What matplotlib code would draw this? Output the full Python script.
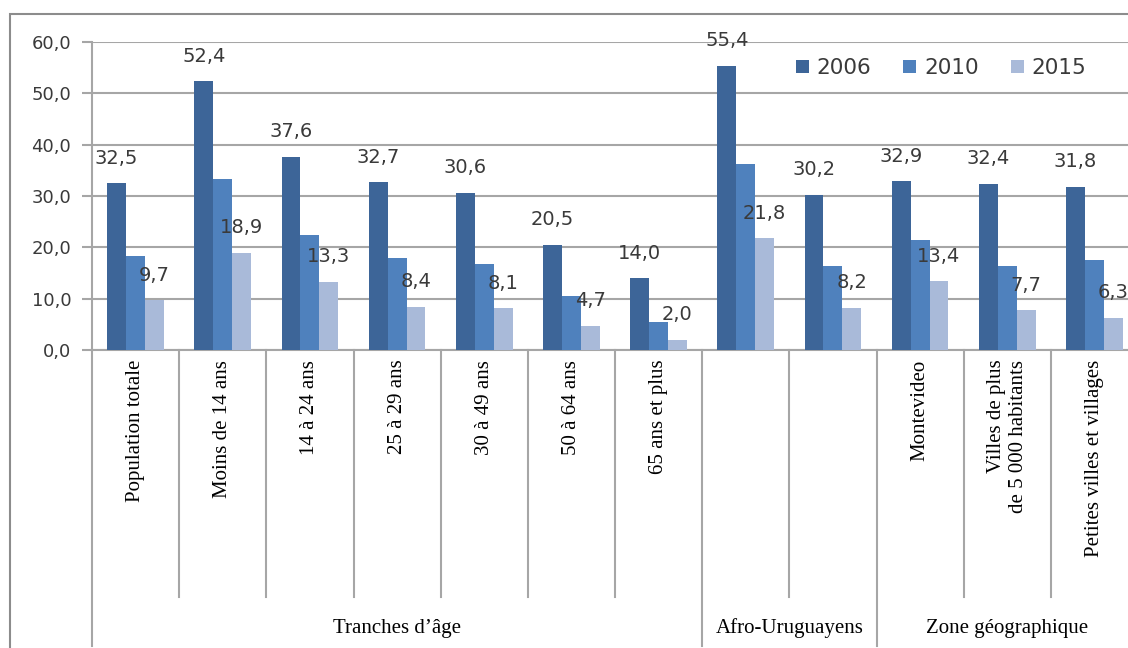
import matplotlib
matplotlib.use("Agg")
import matplotlib.pyplot as plt
import matplotlib.transforms as mtransforms
from matplotlib.lines import Line2D
from matplotlib.patches import Rectangle
import numpy as np

# Categories, grouped on the x axis
categories = ["Population totale", "Moins de 14 ans", "14 à 24 ans", "25 à 29 ans",
              "30 à 49 ans", "50 à 64 ans", "65 ans et plus", "", "",
              "Montevideo", "Villes de plus\nde 5 000 habitants", "Petites villes et villages"]
groups = ["Tranches d’âge", "Afro-Uruguayens", "Zone géographique"]
group_bounds = [(0, 7), (7, 9), (9, 12)]

years = ["2006", "2010", "2015"]
v2006 = [32.5, 52.4, 37.6, 32.7, 30.6, 20.5, 14.0, 55.4, 30.2, 32.9, 32.4, 31.8]
v2010 = [18.3, 33.4, 22.5, 17.9, 16.7, 10.5, 5.5, 36.2, 16.4, 21.4, 16.4, 17.5]
v2015 = [9.7, 18.9, 13.3, 8.4, 8.1, 4.7, 2.0, 21.8, 8.2, 13.4, 7.7, 6.3]

colors = ["#3D6598", "#4F81BD", "#A9BAD9"]
grid_col = "#A6A6A6"
text_col = "#3A3A3A"

W, H = 1128, 648
fig = plt.figure(figsize=(W / 100, H / 100), dpi=100)

# plot area runs a little past the right edge of the figure
x0, x1, y0, y60 = 92, 1138, 350, 42
ax = fig.add_axes([x0 / W, 1 - y0 / H, (x1 - x0) / W, (y0 - y60) / H])

n = len(categories)
x = np.arange(n)
bw = 0.217
for i, (vals, col, yr) in enumerate(zip([v2006, v2010, v2015], colors, years)):
    bars = ax.bar(x + (i - 1) * bw, vals, width=bw, color=col, label=yr, zorder=3)
    if yr != "2010":
        for b, v in zip(bars, vals):
            ax.annotate(f"{v:.1f}".replace(".", ","),
                        (b.get_x() + b.get_width() / 2, b.get_height()),
                        xytext=(0, 18), textcoords="offset points",
                        ha="center", va="center", fontsize=14, color=text_col,
                        zorder=4)

ax.set_xlim(-0.5, n - 0.5)
ax.set_ylim(0, 60)
ax.set_yticks(np.arange(0, 61, 10))
ax.set_yticklabels([f"{t:.1f}".replace(".", ",") for t in np.arange(0, 61, 10)],
                   fontsize=13, color=text_col)
ax.tick_params(axis="y", length=7, width=1.5, color=grid_col, pad=8)
ax.yaxis.grid(True, color=grid_col, linewidth=1.5, zorder=0)
ax.set_axisbelow(True)
for s in ["top", "right"]:
    ax.spines[s].set_visible(False)
for s in ["left", "bottom"]:
    ax.spines[s].set_color(grid_col)
    ax.spines[s].set_linewidth(1.5)

ax.set_xticks(x)
ax.set_xticklabels(categories, rotation=90, fontsize=15, family="Liberation Serif",
                   va="top", ha="center")
for lbl in ax.get_xticklabels():
    lbl.set_multialignment("right")
ax.tick_params(axis="x", length=0, pad=7)

# category separators below the axis, longer ones between groups
trans = mtransforms.blended_transform_factory(ax.transData, ax.transAxes)
short_y = -(597 - y0) / (y0 - y60)
long_y = -(646 - y0) / (y0 - y60)
outer = {b for g in group_bounds for b in g}
for k in range(n + 1):
    yb = long_y if k in outer else short_y
    ax.add_line(Line2D([k - 0.5, k - 0.5], [0, yb], transform=trans, color=grid_col,
                       linewidth=1.5, clip_on=False))

for name, (a, b) in zip(groups, group_bounds):
    ax.text((a + b - 1) / 2, -(628 - y0) / (y0 - y60), name, transform=trans,
            ha="center", va="center", fontsize=15, family="Liberation Serif",
            color="black")

ax.legend(loc="center right", bbox_to_anchor=(1086 / W, 1 - 68 / H),
          bbox_transform=fig.transFigure, ncol=3, frameon=False, fontsize=15.5,
          handlelength=0.6, handleheight=0.6, handletextpad=0.35,
          columnspacing=1.5, borderpad=0, borderaxespad=0, labelcolor=text_col)

# outer chart border
fig.add_artist(Rectangle((10 / W, -0.05), 1.1, 1.05 - 14 / H, transform=fig.transFigure,
                         fill=False, edgecolor="#8C8C8C", linewidth=1.5))

fig.savefig("out.png", dpi=100)
